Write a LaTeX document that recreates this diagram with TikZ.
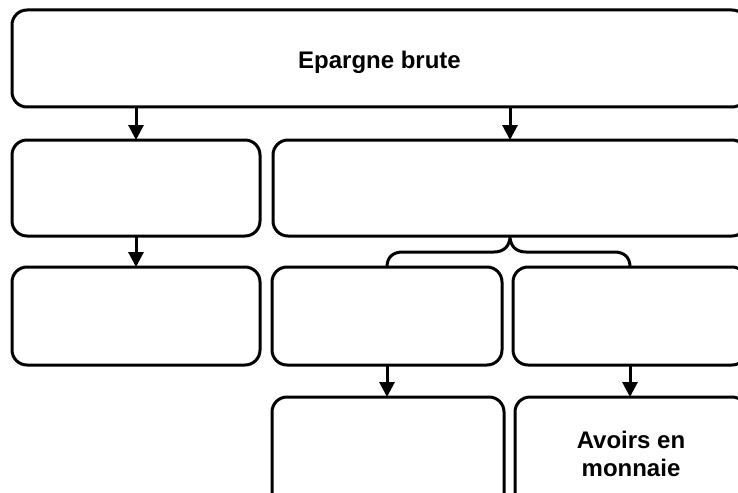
\documentclass[tikz,border=0pt]{standalone}
\usepackage{fontspec}
\setmainfont{Liberation Sans}
\usetikzlibrary{arrows.meta}
\begin{document}
\begin{tikzpicture}[x=1pt,y=-1pt,
  box/.style={draw=black,line width=3pt,rounded corners=15pt,inner sep=0pt,outer sep=0pt,
    align=center,font=\bfseries\fontsize{24}{28}\selectfont},
  arr/.style={line width=3pt,-{Triangle[length=15pt,width=15pt]}},
  brace/.style={line width=3pt}]
\useasboundingbox (0,0) rectangle (738,492);
\clip (0,0) rectangle (738,492);
% first row
\node[box,minimum width=735pt,minimum height=97pt] (top) at (379.5,58.5) {\raisebox{-10pt}[0pt][0pt]{Epargne brute}};
% second row
\node[box,minimum width=248pt,minimum height=96pt] (ml) at (136,188) {};
\node[box,minimum width=474pt,minimum height=96pt] (mr) at (510,188) {};
% third row
\node[box,minimum width=248pt,minimum height=98pt] (ll) at (136,316) {};
\node[box,minimum width=230pt,minimum height=98pt] (lm) at (387,316) {};
\node[box,minimum width=234pt,minimum height=98pt] (lr) at (630,316) {};
% fourth row
\node[box,minimum width=232pt,minimum height=113pt] (bm) at (388,453.5) {};
\node[box,minimum width=232pt,minimum height=113pt] (br) at (631,453.5) {Avoirs en\\monnaie};
% arrows
\draw[arr] (top.south -| ml.north) -- (ml.north);
\draw[arr] (top.south -| mr.north) -- (mr.north);
\draw[arr] (ml.south) -- (ll.north);
\draw[arr] (lm.south) -- (lm.south |- bm.north);
\draw[arr] (lr.south) -- (lr.south |- br.north);
% brace under the wide box of the second row
\coordinate (bl) at (lm.north);
\coordinate (bt) at (mr.south);
\coordinate (bri) at (lr.north);
\draw[brace] (bl) .. controls ([yshift=10pt]bl) and ([xshift=6pt,yshift=15pt]bl) .. ([xshift=16pt,yshift=15pt]bl)
  -- ([xshift=-16pt,yshift=-16pt]bt) .. controls ([xshift=-6pt,yshift=-16pt]bt) and ([yshift=-10pt]bt) .. (bt)
  .. controls ([yshift=-10pt]bt) and ([xshift=6pt,yshift=-16pt]bt) .. ([xshift=16pt,yshift=-16pt]bt)
  -- ([xshift=-16pt,yshift=15pt]bri) .. controls ([xshift=-6pt,yshift=15pt]bri) and ([yshift=10pt]bri) .. (bri);
\end{tikzpicture}
\end{document}
